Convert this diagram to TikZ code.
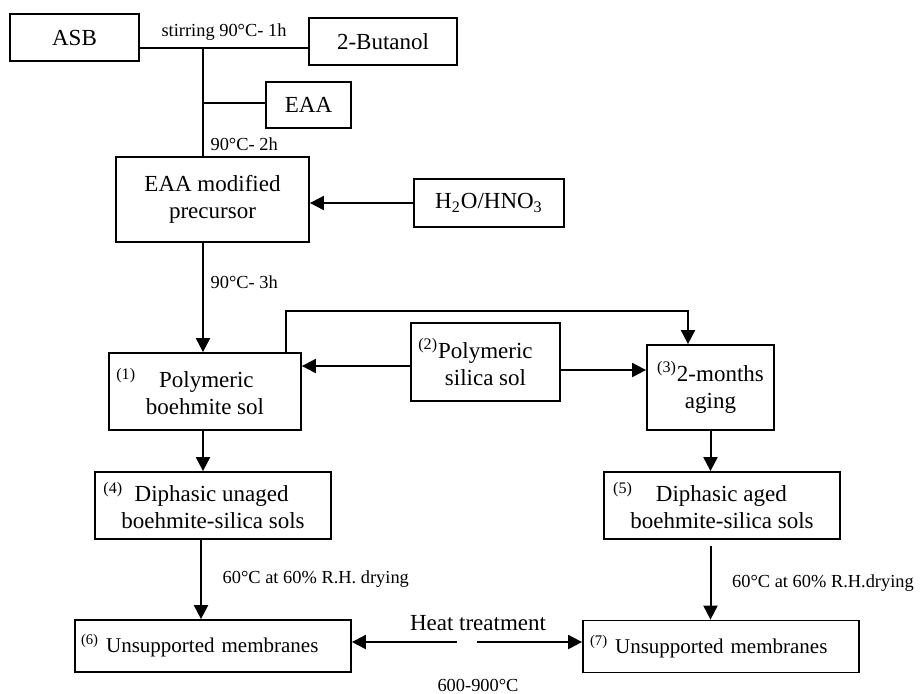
\documentclass[tikz,border=0pt]{standalone}
\usepackage{fontspec}
\setmainfont{Liberation Serif}
\usetikzlibrary{arrows.meta}

\tikzset{
  box/.style={draw, line width=0.9pt, align=center, inner sep=1pt,
    font=\fontsize{11.5}{13.5}\selectfont},
  membox/.style={box, align=left, text width=136pt, minimum height=26pt,
    font=\fontsize{10.5}{12.5}\selectfont},
  arr/.style={-{Triangle[length=7pt,width=7pt]}, line width=1pt},
  cond/.style={font=\fontsize{9.2}{11}\selectfont},
}

\begin{document}
\begin{tikzpicture}[x=0.5pt,y=-0.5pt]
      \useasboundingbox (0,0) rectangle (920,693);

      \node[box, minimum width=64.5pt, minimum height=23.5pt] (asb) at (74.5,37.5) {ASB};
      \node[box, minimum width=74pt, minimum height=23.5pt] (but) at (383,41.5) {2-Butanol};
      \node[box, minimum width=42.5pt, minimum height=23pt] (eaa) at (308.5,105) {EAA};
      \node[box, minimum width=96.5pt, minimum height=42.5pt] (prec) at (212.5,199.5) {EAA modified\\precursor};
      \node[box, minimum width=75pt, minimum height=24pt] (acid) at (489,203) {H\textsubscript{2}O/HNO\textsubscript{3}};

      \node[box, minimum width=96pt, minimum height=38.5pt] (sol1) at (205,391.5) {\textsuperscript{(1)}\quad Polymeric\hspace*{20pt}\\boehmite sol};
      \node[box, minimum width=74.5pt, minimum height=39pt] (sol2) at (485.5,362) {\textsuperscript{(2)}Polymeric\hspace*{10pt}\\silica sol};
      \node[box, minimum width=63.5pt, minimum height=42.5pt] (aged) at (710.5,387.5) {\textsuperscript{(3)}2-months\\aging};

      \node[box, minimum width=118pt, minimum height=33.5pt] (di4) at (213,505.5) {\textsuperscript{(4)}\ \ Diphasic unaged\hspace*{17pt}\\boehmite-silica sols};
      \node[box, minimum width=118pt, minimum height=33.5pt] (di5) at (722,505.5) {\textsuperscript{(5)}\quad Diphasic aged\hspace*{22pt}\\boehmite-silica sols};

      \node[membox] (mem6) at (213,646) {\hspace*{2pt}\textsuperscript{(6)} Unsupported membranes};
      \node[membox] (mem7) at (721,646.5) {\hspace*{2.5pt}\textsuperscript{(7)} Unsupported membranes};

      \node[box, draw=none] (heat) at (478,623) {Heat treatment};
      \node[cond] (temp) at (478,685) {600-900°C};

      \coordinate (j1) at (203,48);
      \coordinate (j2) at (203,103);
      \coordinate (tap) at (286,311);
      \coordinate (tip) at (688,311);
      \coordinate (gapl) at (457,642);
      \coordinate (gapr) at (477,642);

      % mixing line
      \draw[line width=0.9pt] (asb.east |- j1) -- node[cond, above]{stirring 90°C- 1h} (but.west |- j1);
      \draw[line width=0.9pt] (j2) -- (eaa.west |- j2);
      \draw[line width=0.9pt] (j1) -- (j2) -- node[cond, pos=0.78, right]{90°C- 2h} (j1 |- prec.north);
      \draw[arr] (acid.west) -- (acid.west -| prec.east);
      \draw[arr] (prec.south -| j1) -- node[cond, pos=0.36, right]{90°C- 3h} (sol1.north -| j1);

      % sols
      \draw[arr] ([yshift=-2pt]sol2.west) -- ([yshift=-2pt]sol2.west -| sol1.east);
      \draw[arr] ([yshift=-4pt]sol2.east) -- ([yshift=-4pt]sol2.east -| aged.west);
      \draw[arr] (tap |- sol1.north) -- (tap) -- (tip) -- (tip |- aged.north);

      \draw[arr] (sol1.south -| j1) -- (di4.north -| j1);
      \draw[arr] (aged.south) -- (aged.south |- di5.north);

      % drying
      \draw[arr] ([xshift=-1pt]di4.south -| j1) -- node[cond, right=7pt]{60°C at 60\% R.H. drying} ([xshift=-1pt]mem6.north -| j1);
      \draw[arr] ([yshift=-3pt]di5.south -| aged.south) -- node[cond, right=7pt]{60°C at 60\% R.H.drying} (mem7.north -| aged.south);

      % heat treatment
      \draw[arr] (gapl) -- (gapl -| mem6.east);
      \draw[arr] (gapr) -- (gapr -| mem7.west);
\end{tikzpicture}
\end{document}
